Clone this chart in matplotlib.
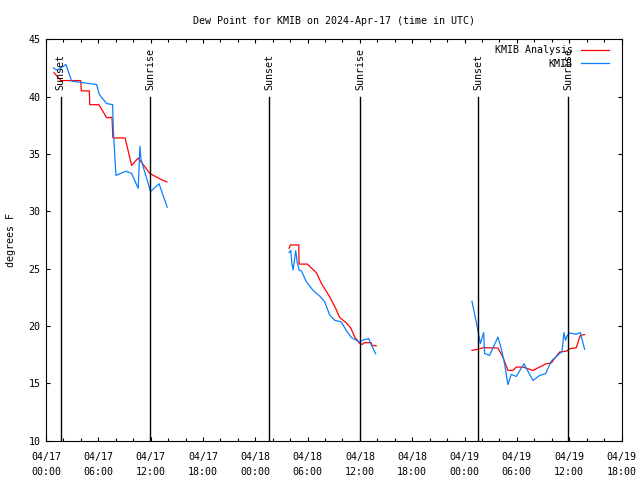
import numpy as np
import matplotlib
matplotlib.use("Agg")
import matplotlib.pyplot as plt

# hours since 2024-04-17 00:00 UTC
ana_h1 = [0.92, 1.70, 3.98, 4.05, 4.97, 5.02, 6.07, 6.97, 7.57, 7.67, 9.07, 9.82, 10.57, 11.92, 12.87, 13.87]
ana_v1 = [42.1, 41.4, 41.4, 40.5, 40.5, 39.3, 39.3, 38.15, 38.2, 36.4, 36.4, 34.0, 34.65, 33.3, 32.9, 32.55]
ana_h2 = [27.88, 28.03, 28.99, 29.02, 29.97, 31.01, 31.59, 32.54, 33.23, 33.69, 34.45, 34.95, 35.41, 35.97,
          36.30, 36.50, 37.30, 37.40, 37.87]
ana_v2 = [26.78, 27.07, 27.07, 25.4, 25.4, 24.64, 23.71, 22.54, 21.52, 20.74, 20.27, 19.83, 19.04, 18.5,
          18.4, 18.55, 18.55, 18.3, 18.28]
ana_h3 = [48.85, 49.54, 50.11, 51.83, 52.40, 52.97, 53.55, 53.93, 54.70, 55.84, 56.61, 57.37, 57.94, 58.90,
          59.74, 60.04, 60.81, 61.27, 61.77]
ana_v3 = [17.88, 17.97, 18.11, 18.08, 17.29, 16.13, 16.13, 16.42, 16.42, 16.13, 16.42, 16.71, 16.77, 17.73,
          17.82, 18.02, 18.11, 19.19, 19.25]

obs_h1 = [0.84, 1.30, 2.29, 2.94, 5.80, 6.11, 6.95, 7.64, 7.72, 8.02, 9.17, 9.82, 10.57, 10.77, 10.90,
          11.99, 12.97, 13.90]
obs_v1 = [42.5, 42.3, 42.8, 41.35, 41.06, 40.19, 39.4, 39.3, 37.1, 33.13, 33.5, 33.3, 32.0, 35.67, 34.5,
          31.73, 32.4, 30.36]
obs_h2 = [27.88, 28.07, 28.19, 28.34, 28.49, 28.64, 28.80, 29.03, 29.29, 29.87, 30.63, 31.47, 31.97, 32.54,
          33.12, 33.87, 34.45, 35.03, 35.60, 35.97, 36.44, 37.01, 37.24, 37.81]
obs_v2 = [26.4, 26.6, 25.46, 24.88, 25.75, 26.57, 25.6, 24.88, 24.8, 23.85, 23.1, 22.55, 22.1, 20.94,
          20.5, 20.35, 19.6, 18.99, 18.75, 18.6, 18.8, 18.9, 18.46, 17.58]
obs_h3 = [48.85, 49.42, 49.81, 50.19, 50.30, 50.87, 51.83, 52.21, 52.59, 52.97, 53.36, 53.93, 54.81, 55.84,
          56.61, 57.29, 57.94, 58.90, 59.17, 59.40, 59.59, 59.74, 60.04, 60.81, 61.27, 61.77]
obs_v3 = [22.16, 20.07, 18.46, 19.43, 17.6, 17.44, 19.04, 18.02, 16.71, 14.9, 15.78, 15.6, 16.71, 15.25,
          15.69, 15.84, 16.94, 17.6, 17.73, 19.43, 18.75, 19.1, 19.39, 19.28, 19.43, 17.97]

sun_h = [1.70, 11.95, 25.57, 36.0, 49.54, 59.86]
sun_lbl = ["Sunset", "Sunrise", "Sunset", "Sunrise", "Sunset", "Sunrise"]

tick_h = list(range(0, 67, 6))
tick_lbl = ["04/17\n00:00", "04/17\n06:00", "04/17\n12:00", "04/17\n18:00",
            "04/18\n00:00", "04/18\n06:00", "04/18\n12:00", "04/18\n18:00",
            "04/19\n00:00", "04/19\n06:00", "04/19\n12:00", "04/19\n18:00"]

plt.rcParams['font.family'] = ['DejaVu Sans Mono']
fs = 7.2
fig = plt.figure(figsize=(6.4, 4.8), dpi=100)
ax = fig.add_axes([46/640, 1 - 440.7/480, 575.5/640, 401.4/480])

red = "#ff0000"
blue = "#0a80ff"
for h, v in [(ana_h1, ana_v1), (ana_h2, ana_v2), (ana_h3, ana_v3)]:
    ax.plot(h, v, color=red, lw=0.9, label="KMIB Analysis" if h is ana_h1 else None)
for h, v in [(obs_h1, obs_v1), (obs_h2, obs_v2), (obs_h3, obs_v3)]:
    ax.plot(h, v, color=blue, lw=0.9, label="KMIB" if h is obs_h1 else None)

for h, s in zip(sun_h, sun_lbl):
    ax.plot([h, h], [10, 40], color="black", lw=1.0)
    ax.text(h, 40.55, s, rotation=90, ha="center", va="bottom", fontsize=fs)

ax.set_xlim(0, 66)
ax.set_ylim(10, 45)
ax.set_xticks(tick_h)
ax.set_xticklabels(tick_lbl, fontsize=fs, linespacing=1.6)
ax.set_xticks(np.arange(0, 67, 2), minor=True)
ax.set_yticks(range(10, 46, 5))
ax.tick_params(axis="y", labelsize=fs)
ax.tick_params(which="both", direction="in", top=True, right=True, width=0.8)
ax.tick_params(which="major", length=3.2, pad=4)
ax.tick_params(axis="x", which="major", pad=8)
ax.tick_params(which="minor", length=2.0)
for sp in ax.spines.values():
    sp.set_linewidth(0.8)

ax.set_ylabel("degrees F", fontsize=fs, labelpad=9)
ax.set_title("Dew Point for KMIB on 2024-Apr-17 (time in UTC)", fontsize=fs, pad=11)

ax.legend(loc="upper right", bbox_to_anchor=(0.978, 0.985), frameon=False, markerfirst=False,
          fontsize=fs, handlelength=2.8, handletextpad=0.8, labelspacing=0.35,
          borderaxespad=0, borderpad=0)

fig.savefig("out.png", dpi=100)
